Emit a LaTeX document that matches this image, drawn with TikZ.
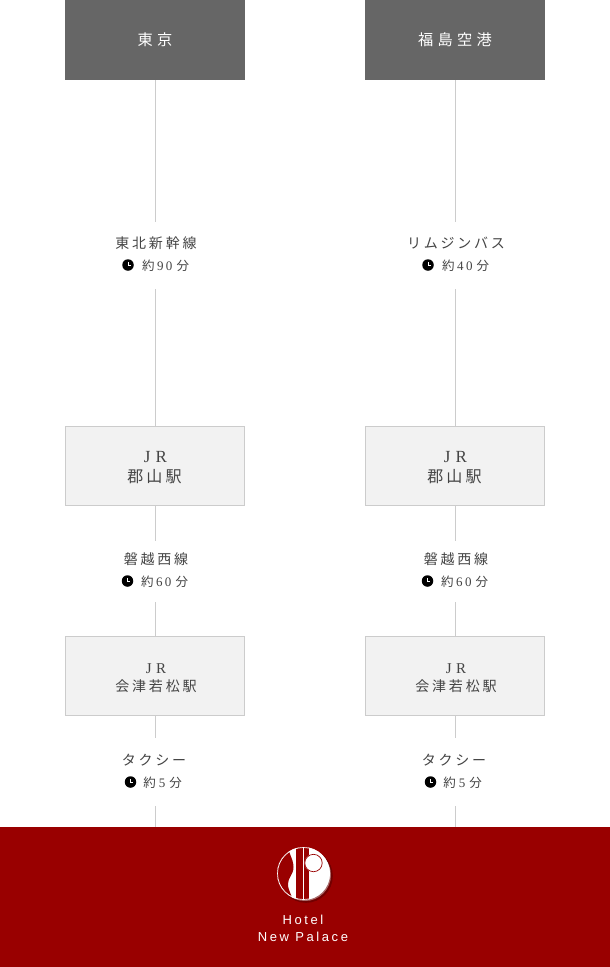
\documentclass[tikz,border=0pt]{standalone}
\usepackage{fontspec}
\setmainfont{Liberation Serif}
\newfontfamily\cjk[LetterSpace=20]{Noto Sans CJK JP}
\newfontfamily\cjkh[LetterSpace=28]{Noto Sans CJK JP}
\newfontfamily\cjkp{Noto Sans CJK JP}
\newfontfamily\ser[LetterSpace=30]{Liberation Serif}
\newfontfamily\serp{Liberation Serif}
\newfontfamily\latinsp[LetterSpace=20]{Liberation Sans}
\definecolor{hdr}{HTML}{666666}
\definecolor{boxf}{HTML}{F2F2F2}
\definecolor{boxl}{HTML}{CCCCCC}
\definecolor{txt}{HTML}{444444}
\definecolor{foot}{HTML}{990000}
\tikzset{
  x=1pt,y=-1pt,
  hdrbox/.style={fill=hdr,minimum width=180pt,minimum height=80pt,inner sep=0pt,text=white,font=\cjkh\fontsize{15.2}{17}\selectfont},
  stabox/.style={fill=boxf,draw=boxl,line width=1pt,minimum width=179pt,minimum height=79pt,inner sep=0pt},
  stalbl/.style={inner sep=0pt,text=txt},
  lbl/.style={inner sep=0pt,text=txt,font=\cjk\fontsize{14}{16}\selectfont},
  tlbl/.style={inner sep=0pt,text=txt,font=\cjkp\fontsize{12.5}{15}\selectfont},
  conn/.style={draw=boxl,line width=1pt},
  clk/.style={circle,fill=black,minimum size=11.5pt,inner sep=0pt},
  pt/.style={inner sep=0pt,outer sep=0pt,minimum size=0pt}
}
\newcommand{\clockhands}[1]{\draw[white,line width=.8pt] ([yshift=3pt]#1.center) -- (#1.center) -- ([xshift=2.6pt]#1.center);}
\newcommand{\dgtwo}[2]{\hspace{2.5pt}{\serp\fontsize{13}{15}\selectfont #1\hspace{2.5pt}#2}\hspace{4pt}}
\newcommand{\dgone}[1]{\hspace{3pt}{\serp\fontsize{13}{15}\selectfont #1}\hspace{4pt}}
\begin{document}
\begin{tikzpicture}
\useasboundingbox (0,0) rectangle (610,967);
\fill[white] (0,0) rectangle (610,967);
\node[pt,fill=foot,minimum width=610pt,minimum height=140pt,anchor=north west] (footer) at (0,827) {};
\foreach \c/\a/\b/\da/\db/\l in {
 155/東京/東北新幹線/9/0/l,
 455/福島空港/リムジンバス/4/0/r}{
  \node[hdrbox] (h\l) at (\c,40) {\a};
  \node[stabox] (k\l) at (\c,466) {};
  \node[stalbl,font=\ser\fontsize{17}{19}\selectfont] (kj\l) at (\c+.5,457.5) {JR};
  \node[stalbl,font=\cjk\fontsize{16}{19}\selectfont] (kn\l) at (\c-.5,476.5) {郡山駅};
  \node[stabox] (w\l) at (\c,676) {};
  \node[stalbl,font=\ser\fontsize{15}{17}\selectfont] (wj\l) at (\c+1,669) {JR};
  \node[stalbl,font=\cjk\fontsize{14}{17}\selectfont] (wn\l) at (\c+1,686.5) {会津若松駅};
  \node[lbl] (a\l) at (\c+1,243) {\b};
  \node[tlbl] (at\l) at (\c+10.5,265.5) {約\dgtwo{\da}{\db}分};
  \node[clk] (ac\l) at (\c-27,265) {};
  \clockhands{ac\l}
  \node[lbl] (b\l) at (\c+1,559) {磐越西線};
  \node[tlbl] (bt\l) at (\c+9.5,581.5) {約\dgtwo{6}{0}分};
  \node[clk] (bc\l) at (\c-27.5,581) {};
  \clockhands{bc\l}
  \node[lbl] (c\l) at (\c-1,760) {タクシー};
  \node[tlbl] (ct\l) at (\c+7.5,782.5) {約\dgone{5}分};
  \node[clk] (cc\l) at (\c-24.5,782) {};
  \clockhands{cc\l}
  \coordinate (p1\l) at (\c,222);
  \coordinate (p2\l) at (\c,289);
  \coordinate (p3\l) at (\c,541);
  \coordinate (p4\l) at (\c,602);
  \coordinate (p5\l) at (\c,738);
  \coordinate (p6\l) at (\c,806);
  \coordinate (p7\l) at (\c,827);
  \draw[conn] (h\l.south) -- (p1\l);
  \draw[conn] (p2\l) -- (k\l.north);
  \draw[conn] (k\l.south) -- (p3\l);
  \draw[conn] (p4\l) -- (w\l.north);
  \draw[conn] (w\l.south) -- (p5\l);
  \draw[conn] (p6\l) -- (p7\l);
}
% logo
\fill[black!25!foot] (306,876) circle (26.8);
\fill[black!30!white!60!foot] (305,875) circle (26);
\fill[white] (303.5,873.5) circle (26.5);
\begin{scope}
\clip (303.5,873.5) circle (26.5);
\fill[foot] (270,840) -- (287,840) .. controls (287,852) and (293.5,858) .. (293.5,867) .. controls (293.5,875) and (288,877) .. (288,884) .. controls (288,892) and (293.5,896) .. (293.5,905) -- (270,905) -- cycle;
\fill[foot] (296,845) rectangle (303,902);
\fill[foot] (304,845) rectangle (309,902);
\end{scope}
\draw[white,line width=.7pt] (303.5,873.5) circle (26);
\fill[white] (313.5,863) circle (9);
\draw[foot,line width=.7pt] (313.5,863) circle (8.7);
\node[pt,text=white,align=center,font=\latinsp\fontsize{13}{17}\selectfont] (logotext) at (303,928) {Hotel\\New Palace};
\end{tikzpicture}
\end{document}
